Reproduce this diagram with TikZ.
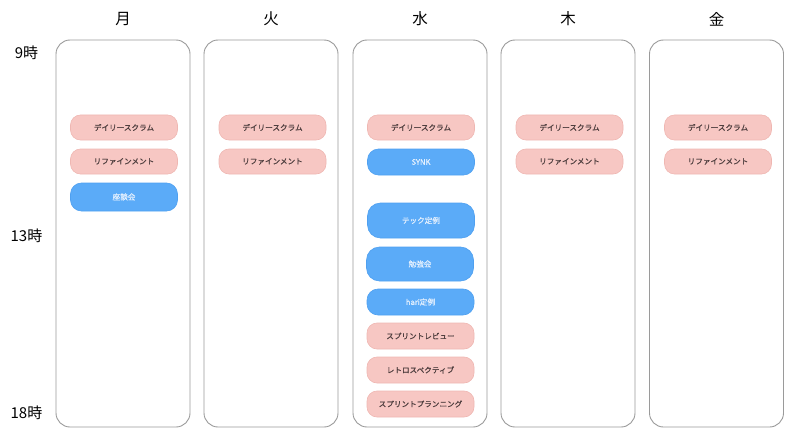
\documentclass[tikz,border=0pt]{standalone}
\usepackage{fontspec}
\setmainfont{Noto Sans CJK JP}
\newfontfamily\evfont{Noto Sans CJK JP}[UprightFeatures={FakeBold=0.9}]
\definecolor{evpink}{HTML}{F7C7C3}
\definecolor{evpinkline}{HTML}{EFB7B2}
\definecolor{evblue}{HTML}{5BABF8}
\definecolor{evblueline}{HTML}{4FA0F0}
\definecolor{colline}{HTML}{9A9A9A}
\definecolor{pinktext}{HTML}{4E3E3E}
\definecolor{bluetext}{HTML}{E4F0FE}
\begin{document}
\begin{tikzpicture}[x=1pt,y=-1pt,
  daycol/.style={draw=colline, line width=0.9pt, rounded corners=14pt, minimum width=134pt, minimum height=387pt, inner sep=0pt},
  pinkev/.style={fill=evpink, draw=evpinkline, line width=0.6pt, rounded corners=10pt, minimum width=107pt, inner sep=0pt, text=pinktext, font=\evfont\fontsize{7.6pt}{8pt}\selectfont},
  blueev/.style={fill=evblue, draw=evblueline, line width=0.6pt, rounded corners=11pt, minimum width=107pt, inner sep=0pt, text=bluetext, font=\evfont\fontsize{7.6pt}{8pt}\selectfont},
  daylabel/.style={font=\fontsize{15.5pt}{16pt}\selectfont, text=black},
  timelabel/.style={font=\fontsize{15pt}{16pt}\selectfont, text=black}]
\useasboundingbox (0,0) rectangle (800,441);
% columns
\node[daycol] (cmon) at (123,233.5) {};
\node[daycol] (ctue) at (271,233.5) {};
\node[daycol] (cwed) at (420,233.5) {};
\node[daycol] (cthu) at (568,233.5) {};
\node[daycol] (cfri) at (716.5,233.5) {};
% day labels
\node[daylabel] (dmon) at (123,19) {月};
\node[daylabel] (dtue) at (271,19) {火};
\node[daylabel] (dwed) at (420,19) {水};
\node[daylabel] (dthu) at (568,19) {木};
\node[daylabel] (dfri) at (716.5,19) {金};
% time labels
\node[timelabel] (t9) at (26.5,53) {9時};
\node[timelabel] (t13) at (26.5,236) {13時};
\node[timelabel] (t18) at (26.5,413) {18時};
% Monday
\node[pinkev, minimum height=25pt] (mon1) at (124,127.5) {デイリースクラム};
\node[pinkev, minimum height=25pt] (mon2) at (124,161.5) {リファインメント};
\node[blueev, minimum height=28pt] (mon3) at (124,197) {座談会};
% Tuesday
\node[pinkev, minimum height=25pt] (tue1) at (272.5,127.5) {デイリースクラム};
\node[pinkev, minimum height=25pt] (tue2) at (272.5,161.5) {リファインメント};
% Wednesday
\node[pinkev, minimum height=25pt] (wed1) at (421,127.5) {デイリースクラム};
\node[blueev, minimum height=26pt] (wed2) at (421,162) {SYNK};
\node[blueev, minimum height=35pt, rounded corners=13pt] (wed3) at (421,220.5) {テック定例};
\node[blueev, minimum height=34pt, rounded corners=13pt] (wed4) at (420,264) {勉強会};
\node[blueev, minimum height=26pt] (wed5) at (420.5,302) {hari定例};
\node[pinkev, minimum height=26pt] (wed6) at (420.5,336) {スプリントレビュー};
\node[pinkev, minimum height=26pt] (wed7) at (420.5,370) {レトロスペクティブ};
\node[pinkev, minimum height=26pt] (wed8) at (420.5,404) {スプリントプランニング};
% Thursday
\node[pinkev, minimum height=25pt] (thu1) at (569.5,127.5) {デイリースクラム};
\node[pinkev, minimum height=25pt] (thu2) at (569.5,161.5) {リファインメント};
% Friday
\node[pinkev, minimum height=25pt] (fri1) at (718,127.5) {デイリースクラム};
\node[pinkev, minimum height=25pt] (fri2) at (718,161.5) {リファインメント};
\end{tikzpicture}
\end{document}
